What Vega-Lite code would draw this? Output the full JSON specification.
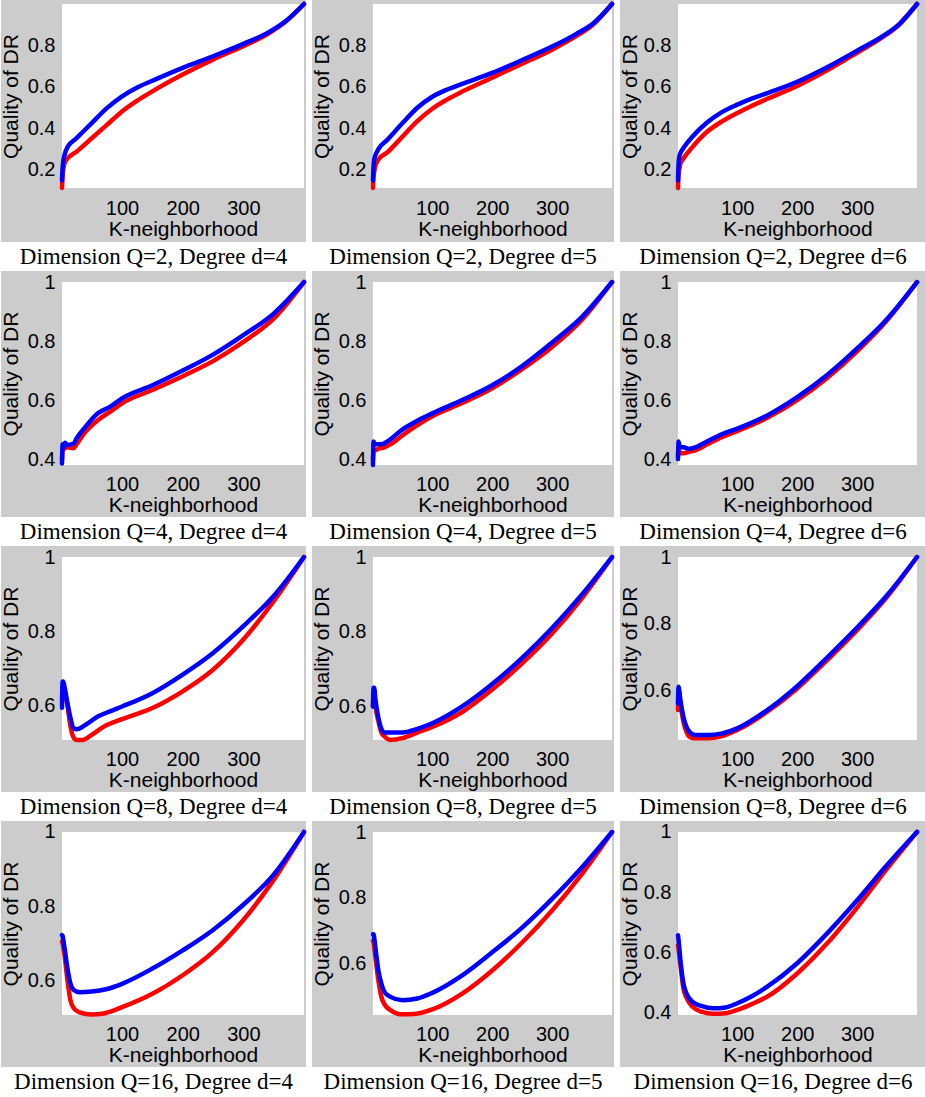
{
"$schema":"https://vega.github.io/schema/vega-lite/v6.json",
"padding":0,
"background":"white",
"spacing":2,
"config":{
 "view":{"fill":"#cccccc","stroke":null},
 "axis":{"domain":false,"ticks":false,"tickSize":0,"grid":false,"labelFont":"Liberation Sans","labelFontSize":20,"labelColor":"#000","titleFont":"Liberation Sans","titleFontSize":21,"titleFontWeight":"normal","titleColor":"#000"},
 "axisX":{"labelBaseline":"top","labelPadding":9,"titleBaseline":"alphabetic","titleAlign":"center","titleAngle":0},
 "axisY":{"labelPadding":7,"labelBaseline":"middle","titleAngle":270,"titleBaseline":"alphabetic","titleAlign":"center"},
 "title":{"orient":"bottom","anchor":"middle","offset":4,"baseline":"top","font":"Liberation Serif","fontSize":23,"fontWeight":"normal","color":"#000"},
 "line":{"strokeWidth":4.5,"interpolate":"monotone","strokeCap":"round","strokeJoin":"round","clip":true}
},
"vconcat":[
{"spacing":6,"bounds":"flush","hconcat":[
{"width":305,"height":242,"title":"Dimension Q=2, Degree d=4","layer":[
 {"data":{"values":[{}]},"mark":{"type":"rect","fill":"white"},"encoding":{
  "x":{"datum":1,"type":"quantitative","scale":{"domain":[-99.58,403.3],"nice":false,"zero":false},"axis":{"values":[100,200,300],"format":"d","title":"K-neighborhood","offset":-54,"labelPadding":10,"titleX":182,"titleY":47}},
  "x2":{"datum":400},
  "y":{"datum":0.113,"type":"quantitative","scale":{"domain":[-0.1474,1.0193],"nice":false,"zero":false},"axis":{"values":[0.2,0.4,0.6,0.8],"format":".1~f","title":"Quality of DR","offset":-61,"titleX":-45,"titleY":96}},
  "y2":{"datum":1}}},
 {"data":{"values":[
  {"s":"r","k":1,"q":0.113},{"s":"r","k":2,"q":0.17},{"s":"r","k":3,"q":0.2},{"s":"r","k":5,"q":0.23},{"s":"r","k":10,"q":0.255},{"s":"r","k":25,"q":0.288},{"s":"r","k":50,"q":0.353},{"s":"r","k":75,"q":0.417},{"s":"r","k":100,"q":0.482},{"s":"r","k":125,"q":0.534},{"s":"r","k":150,"q":0.579},{"s":"r","k":200,"q":0.66},{"s":"r","k":250,"q":0.732},{"s":"r","k":300,"q":0.797},{"s":"r","k":340,"q":0.855},{"s":"r","k":370,"q":0.915},{"s":"r","k":400,"q":1},
  {"s":"b","k":1,"q":0.15},{"s":"b","k":2,"q":0.21},{"s":"b","k":3,"q":0.24},{"s":"b","k":5,"q":0.27},{"s":"b","k":10,"q":0.31},{"s":"b","k":25,"q":0.353},{"s":"b","k":50,"q":0.426},{"s":"b","k":75,"q":0.498},{"s":"b","k":100,"q":0.555},{"s":"b","k":125,"q":0.598},{"s":"b","k":150,"q":0.63},{"s":"b","k":200,"q":0.692},{"s":"b","k":250,"q":0.748},{"s":"b","k":300,"q":0.808},{"s":"b","k":340,"q":0.861},{"s":"b","k":370,"q":0.918},{"s":"b","k":400,"q":1}]},
  "mark":"line","encoding":{
  "x":{"field":"k","type":"quantitative","scale":{"domain":[-99.58,403.3],"nice":false,"zero":false},"axis":{"values":[100,200,300],"format":"d","title":"K-neighborhood","offset":-54,"labelPadding":10,"titleX":182,"titleY":47}},
  "y":{"field":"q","type":"quantitative","scale":{"domain":[-0.1474,1.0193],"nice":false,"zero":false},"axis":{"values":[0.2,0.4,0.6,0.8],"format":".1~f","title":"Quality of DR","offset":-61,"titleX":-45,"titleY":96}},
  "color":{"field":"s","type":"nominal","scale":{"domain":["r","b"],"range":["#ff0000","#0000ff"]},"legend":null}}}
]},
{"width":302,"height":242,"title":"Dimension Q=2, Degree d=5","layer":[
 {"data":{"values":[{}]},"mark":{"type":"rect","fill":"white"},"encoding":{
  "x":{"datum":1,"type":"quantitative","scale":{"domain":[-100.8,403.34],"nice":false,"zero":false},"axis":{"values":[100,200,300],"format":"d","title":"K-neighborhood","offset":-54,"labelPadding":10,"titleX":180.5,"titleY":47}},
  "x2":{"datum":400},
  "y":{"datum":0.113,"type":"quantitative","scale":{"domain":[-0.1474,1.0193],"nice":false,"zero":false},"axis":{"values":[0.2,0.4,0.6,0.8],"format":".1~f","title":"Quality of DR","offset":-61,"titleX":-45,"titleY":96}},
  "y2":{"datum":1}}},
 {"data":{"values":[
  {"s":"r","k":1,"q":0.113},{"s":"r","k":2,"q":0.17},{"s":"r","k":3,"q":0.19},{"s":"r","k":5,"q":0.22},{"s":"r","k":10,"q":0.25},{"s":"r","k":25,"q":0.285},{"s":"r","k":50,"q":0.36},{"s":"r","k":75,"q":0.435},{"s":"r","k":100,"q":0.495},{"s":"r","k":125,"q":0.54},{"s":"r","k":150,"q":0.578},{"s":"r","k":200,"q":0.645},{"s":"r","k":250,"q":0.712},{"s":"r","k":300,"q":0.78},{"s":"r","k":340,"q":0.845},{"s":"r","k":370,"q":0.905},{"s":"r","k":400,"q":1},
  {"s":"b","k":1,"q":0.15},{"s":"b","k":2,"q":0.22},{"s":"b","k":3,"q":0.25},{"s":"b","k":5,"q":0.27},{"s":"b","k":10,"q":0.3},{"s":"b","k":25,"q":0.345},{"s":"b","k":50,"q":0.425},{"s":"b","k":75,"q":0.5},{"s":"b","k":100,"q":0.553},{"s":"b","k":125,"q":0.588},{"s":"b","k":150,"q":0.615},{"s":"b","k":200,"q":0.668},{"s":"b","k":250,"q":0.73},{"s":"b","k":300,"q":0.795},{"s":"b","k":340,"q":0.855},{"s":"b","k":370,"q":0.91},{"s":"b","k":400,"q":1}]},
  "mark":"line","encoding":{
  "x":{"field":"k","type":"quantitative","scale":{"domain":[-100.8,403.34],"nice":false,"zero":false},"axis":{"values":[100,200,300],"format":"d","title":"K-neighborhood","offset":-54,"labelPadding":10,"titleX":180.5,"titleY":47}},
  "y":{"field":"q","type":"quantitative","scale":{"domain":[-0.1474,1.0193],"nice":false,"zero":false},"axis":{"values":[0.2,0.4,0.6,0.8],"format":".1~f","title":"Quality of DR","offset":-61,"titleX":-45,"titleY":96}},
  "color":{"field":"s","type":"nominal","scale":{"domain":["r","b"],"range":["#ff0000","#0000ff"]},"legend":null}}}
]},
{"width":306,"height":242,"title":"Dimension Q=2, Degree d=6","layer":[
 {"data":{"values":[{}]},"mark":{"type":"rect","fill":"white"},"encoding":{
  "x":{"datum":1,"type":"quantitative","scale":{"domain":[-95.8,415.0],"nice":false,"zero":false},"axis":{"values":[100,200,300],"format":"d","title":"K-neighborhood","offset":-54,"labelPadding":10,"titleX":177.5,"titleY":47}},
  "x2":{"datum":400},
  "y":{"datum":0.113,"type":"quantitative","scale":{"domain":[-0.1474,1.0193],"nice":false,"zero":false},"axis":{"values":[0.2,0.4,0.6,0.8],"format":".1~f","title":"Quality of DR","offset":-58,"titleX":-42,"titleY":96}},
  "y2":{"datum":1}}},
 {"data":{"values":[
  {"s":"r","k":1,"q":0.113},{"s":"r","k":2,"q":0.18},{"s":"r","k":3,"q":0.2},{"s":"r","k":5,"q":0.23},{"s":"r","k":10,"q":0.255},{"s":"r","k":25,"q":0.31},{"s":"r","k":50,"q":0.385},{"s":"r","k":75,"q":0.435},{"s":"r","k":100,"q":0.475},{"s":"r","k":125,"q":0.51},{"s":"r","k":150,"q":0.543},{"s":"r","k":200,"q":0.605},{"s":"r","k":250,"q":0.68},{"s":"r","k":300,"q":0.765},{"s":"r","k":340,"q":0.835},{"s":"r","k":370,"q":0.9},{"s":"r","k":400,"q":1},
  {"s":"b","k":1,"q":0.15},{"s":"b","k":2,"q":0.23},{"s":"b","k":3,"q":0.26},{"s":"b","k":5,"q":0.28},{"s":"b","k":10,"q":0.305},{"s":"b","k":25,"q":0.36},{"s":"b","k":50,"q":0.43},{"s":"b","k":75,"q":0.48},{"s":"b","k":100,"q":0.515},{"s":"b","k":125,"q":0.545},{"s":"b","k":150,"q":0.57},{"s":"b","k":200,"q":0.625},{"s":"b","k":250,"q":0.695},{"s":"b","k":300,"q":0.775},{"s":"b","k":340,"q":0.84},{"s":"b","k":370,"q":0.902},{"s":"b","k":400,"q":1}]},
  "mark":"line","encoding":{
  "x":{"field":"k","type":"quantitative","scale":{"domain":[-95.8,415.0],"nice":false,"zero":false},"axis":{"values":[100,200,300],"format":"d","title":"K-neighborhood","offset":-54,"labelPadding":10,"titleX":177.5,"titleY":47}},
  "y":{"field":"q","type":"quantitative","scale":{"domain":[-0.1474,1.0193],"nice":false,"zero":false},"axis":{"values":[0.2,0.4,0.6,0.8],"format":".1~f","title":"Quality of DR","offset":-58,"titleX":-42,"titleY":96}},
  "color":{"field":"s","type":"nominal","scale":{"domain":["r","b"],"range":["#ff0000","#0000ff"]},"legend":null}}}
]}
]},
{"spacing":6,"bounds":"flush","hconcat":[
{"width":305,"height":246,"title":"Dimension Q=4, Degree d=4","layer":[
 {"data":{"values":[{}]},"mark":{"type":"rect","fill":"white"},"encoding":{
  "x":{"datum":1,"type":"quantitative","scale":{"domain":[-99.58,403.3],"nice":false,"zero":false},"axis":{"values":[100,200,300],"format":"d","title":"K-neighborhood","offset":-52,"titleX":182,"titleY":46}},
  "x2":{"datum":400},
  "y":{"datum":0.38,"type":"quantitative","scale":{"domain":[0.2038,1.0373],"nice":false,"zero":false},"axis":{"values":[0.4,0.6,0.8,1],"format":".1~f","title":"Quality of DR","offset":-61,"titleX":-45,"titleY":102.5}},
  "y2":{"datum":1}}},
 {"data":{"values":[
  {"s":"r","k":1,"q":0.397},{"s":"r","k":2,"q":0.43},{"s":"r","k":5,"q":0.435},{"s":"r","k":10,"q":0.44},{"s":"r","k":20,"q":0.437},{"s":"r","k":25,"q":0.45},{"s":"r","k":40,"q":0.493},{"s":"r","k":60,"q":0.532},{"s":"r","k":80,"q":0.56},{"s":"r","k":100,"q":0.589},{"s":"r","k":150,"q":0.634},{"s":"r","k":200,"q":0.681},{"s":"r","k":250,"q":0.732},{"s":"r","k":300,"q":0.797},{"s":"r","k":350,"q":0.876},{"s":"r","k":400,"q":1},
  {"s":"b","k":1,"q":0.385},{"s":"b","k":2,"q":0.45},{"s":"b","k":4,"q":0.44},{"s":"b","k":6,"q":0.455},{"s":"b","k":10,"q":0.447},{"s":"b","k":15,"q":0.45},{"s":"b","k":20,"q":0.452},{"s":"b","k":25,"q":0.47},{"s":"b","k":40,"q":0.51},{"s":"b","k":60,"q":0.555},{"s":"b","k":80,"q":0.577},{"s":"b","k":100,"q":0.606},{"s":"b","k":150,"q":0.65},{"s":"b","k":200,"q":0.7},{"s":"b","k":250,"q":0.754},{"s":"b","k":300,"q":0.82},{"s":"b","k":350,"q":0.893},{"s":"b","k":400,"q":1}]},
  "mark":"line","encoding":{
  "x":{"field":"k","type":"quantitative","scale":{"domain":[-99.58,403.3],"nice":false,"zero":false},"axis":{"values":[100,200,300],"format":"d","title":"K-neighborhood","offset":-52,"titleX":182,"titleY":46}},
  "y":{"field":"q","type":"quantitative","scale":{"domain":[0.2038,1.0373],"nice":false,"zero":false},"axis":{"values":[0.4,0.6,0.8,1],"format":".1~f","title":"Quality of DR","offset":-61,"titleX":-45,"titleY":102.5}},
  "color":{"field":"s","type":"nominal","scale":{"domain":["r","b"],"range":["#ff0000","#0000ff"]},"legend":null}}}
]},
{"width":302,"height":246,"title":"Dimension Q=4, Degree d=5","layer":[
 {"data":{"values":[{}]},"mark":{"type":"rect","fill":"white"},"encoding":{
  "x":{"datum":1,"type":"quantitative","scale":{"domain":[-100.8,403.34],"nice":false,"zero":false},"axis":{"values":[100,200,300],"format":"d","title":"K-neighborhood","offset":-52,"titleX":180.5,"titleY":46}},
  "x2":{"datum":400},
  "y":{"datum":0.38,"type":"quantitative","scale":{"domain":[0.2038,1.0373],"nice":false,"zero":false},"axis":{"values":[0.4,0.6,0.8,1],"format":".1~f","title":"Quality of DR","offset":-61,"titleX":-45,"titleY":102.5}},
  "y2":{"datum":1}}},
 {"data":{"values":[
  {"s":"r","k":1,"q":0.4},{"s":"r","k":2,"q":0.43},{"s":"r","k":5,"q":0.43},{"s":"r","k":10,"q":0.435},{"s":"r","k":20,"q":0.44},{"s":"r","k":30,"q":0.45},{"s":"r","k":50,"q":0.48},{"s":"r","k":75,"q":0.515},{"s":"r","k":100,"q":0.545},{"s":"r","k":150,"q":0.59},{"s":"r","k":200,"q":0.64},{"s":"r","k":250,"q":0.705},{"s":"r","k":300,"q":0.78},{"s":"r","k":350,"q":0.872},{"s":"r","k":400,"q":1},
  {"s":"b","k":1,"q":0.38},{"s":"b","k":2,"q":0.46},{"s":"b","k":4,"q":0.45},{"s":"b","k":8,"q":0.45},{"s":"b","k":15,"q":0.45},{"s":"b","k":25,"q":0.46},{"s":"b","k":50,"q":0.5},{"s":"b","k":75,"q":0.53},{"s":"b","k":100,"q":0.555},{"s":"b","k":150,"q":0.6},{"s":"b","k":200,"q":0.65},{"s":"b","k":250,"q":0.715},{"s":"b","k":300,"q":0.795},{"s":"b","k":350,"q":0.882},{"s":"b","k":400,"q":1}]},
  "mark":"line","encoding":{
  "x":{"field":"k","type":"quantitative","scale":{"domain":[-100.8,403.34],"nice":false,"zero":false},"axis":{"values":[100,200,300],"format":"d","title":"K-neighborhood","offset":-52,"titleX":180.5,"titleY":46}},
  "y":{"field":"q","type":"quantitative","scale":{"domain":[0.2038,1.0373],"nice":false,"zero":false},"axis":{"values":[0.4,0.6,0.8,1],"format":".1~f","title":"Quality of DR","offset":-61,"titleX":-45,"titleY":102.5}},
  "color":{"field":"s","type":"nominal","scale":{"domain":["r","b"],"range":["#ff0000","#0000ff"]},"legend":null}}}
]},
{"width":306,"height":246,"title":"Dimension Q=4, Degree d=6","layer":[
 {"data":{"values":[{}]},"mark":{"type":"rect","fill":"white"},"encoding":{
  "x":{"datum":1,"type":"quantitative","scale":{"domain":[-95.8,415.0],"nice":false,"zero":false},"axis":{"values":[100,200,300],"format":"d","title":"K-neighborhood","offset":-52,"titleX":177.5,"titleY":46}},
  "x2":{"datum":400},
  "y":{"datum":0.38,"type":"quantitative","scale":{"domain":[0.2038,1.0373],"nice":false,"zero":false},"axis":{"values":[0.4,0.6,0.8,1],"format":".1~f","title":"Quality of DR","offset":-58,"titleX":-42,"titleY":102.5}},
  "y2":{"datum":1}}},
 {"data":{"values":[
  {"s":"r","k":1,"q":0.41},{"s":"r","k":2,"q":0.43},{"s":"r","k":5,"q":0.42},{"s":"r","k":10,"q":0.42},{"s":"r","k":20,"q":0.425},{"s":"r","k":30,"q":0.43},{"s":"r","k":50,"q":0.45},{"s":"r","k":75,"q":0.475},{"s":"r","k":100,"q":0.495},{"s":"r","k":150,"q":0.54},{"s":"r","k":200,"q":0.6},{"s":"r","k":250,"q":0.675},{"s":"r","k":300,"q":0.765},{"s":"r","k":350,"q":0.87},{"s":"r","k":400,"q":1},
  {"s":"b","k":1,"q":0.4},{"s":"b","k":2,"q":0.46},{"s":"b","k":4,"q":0.44},{"s":"b","k":10,"q":0.44},{"s":"b","k":20,"q":0.435},{"s":"b","k":30,"q":0.44},{"s":"b","k":50,"q":0.46},{"s":"b","k":75,"q":0.485},{"s":"b","k":100,"q":0.503},{"s":"b","k":150,"q":0.548},{"s":"b","k":200,"q":0.61},{"s":"b","k":250,"q":0.685},{"s":"b","k":300,"q":0.775},{"s":"b","k":350,"q":0.875},{"s":"b","k":400,"q":1}]},
  "mark":"line","encoding":{
  "x":{"field":"k","type":"quantitative","scale":{"domain":[-95.8,415.0],"nice":false,"zero":false},"axis":{"values":[100,200,300],"format":"d","title":"K-neighborhood","offset":-52,"titleX":177.5,"titleY":46}},
  "y":{"field":"q","type":"quantitative","scale":{"domain":[0.2038,1.0373],"nice":false,"zero":false},"axis":{"values":[0.4,0.6,0.8,1],"format":".1~f","title":"Quality of DR","offset":-58,"titleX":-42,"titleY":102.5}},
  "color":{"field":"s","type":"nominal","scale":{"domain":["r","b"],"range":["#ff0000","#0000ff"]},"legend":null}}}
]}
]},
{"spacing":6,"bounds":"flush","hconcat":[
{"width":305,"height":246,"title":"Dimension Q=8, Degree d=4","layer":[
 {"data":{"values":[{}]},"mark":{"type":"rect","fill":"white"},"encoding":{
  "x":{"datum":1,"type":"quantitative","scale":{"domain":[-99.58,403.3],"nice":false,"zero":false},"axis":{"values":[100,200,300],"format":"d","title":"K-neighborhood","offset":-52,"titleX":182,"titleY":46}},
  "x2":{"datum":400},
  "y":{"datum":0.508,"type":"quantitative","scale":{"domain":[0.3682,1.0296],"nice":false,"zero":false},"axis":{"values":[0.6,0.8,1],"format":".1~f","title":"Quality of DR","offset":-61,"titleX":-45,"titleY":102.5}},
  "y2":{"datum":1}}},
 {"data":{"values":[
  {"s":"r","k":1,"q":0.62},{"s":"r","k":2,"q":0.645},{"s":"r","k":3,"q":0.655},{"s":"r","k":5,"q":0.64},{"s":"r","k":10,"q":0.6},{"s":"r","k":15,"q":0.544},{"s":"r","k":20,"q":0.515},{"s":"r","k":25,"q":0.508},{"s":"r","k":35,"q":0.508},{"s":"r","k":50,"q":0.522},{"s":"r","k":70,"q":0.544},{"s":"r","k":100,"q":0.564},{"s":"r","k":150,"q":0.594},{"s":"r","k":200,"q":0.639},{"s":"r","k":250,"q":0.697},{"s":"r","k":300,"q":0.778},{"s":"r","k":350,"q":0.881},{"s":"r","k":400,"q":1},
  {"s":"b","k":1,"q":0.595},{"s":"b","k":2,"q":0.665},{"s":"b","k":3,"q":0.665},{"s":"b","k":5,"q":0.652},{"s":"b","k":10,"q":0.607},{"s":"b","k":15,"q":0.567},{"s":"b","k":20,"q":0.54},{"s":"b","k":25,"q":0.537},{"s":"b","k":40,"q":0.549},{"s":"b","k":60,"q":0.571},{"s":"b","k":80,"q":0.585},{"s":"b","k":100,"q":0.598},{"s":"b","k":150,"q":0.634},{"s":"b","k":200,"q":0.684},{"s":"b","k":250,"q":0.742},{"s":"b","k":300,"q":0.814},{"s":"b","k":350,"q":0.895},{"s":"b","k":400,"q":1}]},
  "mark":"line","encoding":{
  "x":{"field":"k","type":"quantitative","scale":{"domain":[-99.58,403.3],"nice":false,"zero":false},"axis":{"values":[100,200,300],"format":"d","title":"K-neighborhood","offset":-52,"titleX":182,"titleY":46}},
  "y":{"field":"q","type":"quantitative","scale":{"domain":[0.3682,1.0296],"nice":false,"zero":false},"axis":{"values":[0.6,0.8,1],"format":".1~f","title":"Quality of DR","offset":-61,"titleX":-45,"titleY":102.5}},
  "color":{"field":"s","type":"nominal","scale":{"domain":["r","b"],"range":["#ff0000","#0000ff"]},"legend":null}}}
]},
{"width":302,"height":246,"title":"Dimension Q=8, Degree d=5","layer":[
 {"data":{"values":[{}]},"mark":{"type":"rect","fill":"white"},"encoding":{
  "x":{"datum":1,"type":"quantitative","scale":{"domain":[-100.8,403.34],"nice":false,"zero":false},"axis":{"values":[100,200,300],"format":"d","title":"K-neighborhood","offset":-52,"titleX":180.5,"titleY":46}},
  "x2":{"datum":400},
  "y":{"datum":0.51,"type":"quantitative","scale":{"domain":[0.3708,1.0295],"nice":false,"zero":false},"axis":{"values":[0.6,0.8,1],"format":".1~f","title":"Quality of DR","offset":-61,"titleX":-45,"titleY":102.5}},
  "y2":{"datum":1}}},
 {"data":{"values":[
  {"s":"r","k":1,"q":0.6},{"s":"r","k":2,"q":0.63},{"s":"r","k":3,"q":0.625},{"s":"r","k":5,"q":0.6},{"s":"r","k":10,"q":0.56},{"s":"r","k":15,"q":0.53},{"s":"r","k":20,"q":0.52},{"s":"r","k":30,"q":0.51},{"s":"r","k":50,"q":0.515},{"s":"r","k":75,"q":0.53},{"s":"r","k":100,"q":0.545},{"s":"r","k":150,"q":0.585},{"s":"r","k":200,"q":0.645},{"s":"r","k":250,"q":0.715},{"s":"r","k":300,"q":0.795},{"s":"r","k":350,"q":0.89},{"s":"r","k":400,"q":1},
  {"s":"b","k":1,"q":0.6},{"s":"b","k":2,"q":0.65},{"s":"b","k":3,"q":0.65},{"s":"b","k":5,"q":0.62},{"s":"b","k":10,"q":0.57},{"s":"b","k":15,"q":0.54},{"s":"b","k":20,"q":0.53},{"s":"b","k":30,"q":0.53},{"s":"b","k":50,"q":0.53},{"s":"b","k":75,"q":0.54},{"s":"b","k":100,"q":0.555},{"s":"b","k":150,"q":0.6},{"s":"b","k":200,"q":0.66},{"s":"b","k":250,"q":0.73},{"s":"b","k":300,"q":0.81},{"s":"b","k":350,"q":0.9},{"s":"b","k":400,"q":1}]},
  "mark":"line","encoding":{
  "x":{"field":"k","type":"quantitative","scale":{"domain":[-100.8,403.34],"nice":false,"zero":false},"axis":{"values":[100,200,300],"format":"d","title":"K-neighborhood","offset":-52,"titleX":180.5,"titleY":46}},
  "y":{"field":"q","type":"quantitative","scale":{"domain":[0.3708,1.0295],"nice":false,"zero":false},"axis":{"values":[0.6,0.8,1],"format":".1~f","title":"Quality of DR","offset":-61,"titleX":-45,"titleY":102.5}},
  "color":{"field":"s","type":"nominal","scale":{"domain":["r","b"],"range":["#ff0000","#0000ff"]},"legend":null}}}
]},
{"width":306,"height":246,"title":"Dimension Q=8, Degree d=6","layer":[
 {"data":{"values":[{}]},"mark":{"type":"rect","fill":"white"},"encoding":{
  "x":{"datum":1,"type":"quantitative","scale":{"domain":[-95.8,415.0],"nice":false,"zero":false},"axis":{"values":[100,200,300],"format":"d","title":"K-neighborhood","offset":-52,"titleX":177.5,"titleY":46}},
  "x2":{"datum":400},
  "y":{"datum":0.45,"type":"quantitative","scale":{"domain":[0.2937,1.0331],"nice":false,"zero":false},"axis":{"values":[0.6,0.8,1],"format":".1~f","title":"Quality of DR","offset":-58,"titleX":-42,"titleY":102.5}},
  "y2":{"datum":1}}},
 {"data":{"values":[
  {"s":"r","k":1,"q":0.54},{"s":"r","k":2,"q":0.6},{"s":"r","k":3,"q":0.59},{"s":"r","k":5,"q":0.56},{"s":"r","k":10,"q":0.505},{"s":"r","k":15,"q":0.475},{"s":"r","k":20,"q":0.46},{"s":"r","k":30,"q":0.455},{"s":"r","k":50,"q":0.455},{"s":"r","k":75,"q":0.462},{"s":"r","k":100,"q":0.48},{"s":"r","k":150,"q":0.535},{"s":"r","k":200,"q":0.605},{"s":"r","k":250,"q":0.69},{"s":"r","k":300,"q":0.78},{"s":"r","k":350,"q":0.88},{"s":"r","k":400,"q":1},
  {"s":"b","k":1,"q":0.56},{"s":"b","k":2,"q":0.61},{"s":"b","k":3,"q":0.6},{"s":"b","k":5,"q":0.57},{"s":"b","k":10,"q":0.52},{"s":"b","k":15,"q":0.49},{"s":"b","k":20,"q":0.475},{"s":"b","k":30,"q":0.465},{"s":"b","k":50,"q":0.465},{"s":"b","k":75,"q":0.47},{"s":"b","k":100,"q":0.485},{"s":"b","k":150,"q":0.54},{"s":"b","k":200,"q":0.612},{"s":"b","k":250,"q":0.698},{"s":"b","k":300,"q":0.788},{"s":"b","k":350,"q":0.885},{"s":"b","k":400,"q":1}]},
  "mark":"line","encoding":{
  "x":{"field":"k","type":"quantitative","scale":{"domain":[-95.8,415.0],"nice":false,"zero":false},"axis":{"values":[100,200,300],"format":"d","title":"K-neighborhood","offset":-52,"titleX":177.5,"titleY":46}},
  "y":{"field":"q","type":"quantitative","scale":{"domain":[0.2937,1.0331],"nice":false,"zero":false},"axis":{"values":[0.6,0.8,1],"format":".1~f","title":"Quality of DR","offset":-58,"titleX":-42,"titleY":102.5}},
  "color":{"field":"s","type":"nominal","scale":{"domain":["r","b"],"range":["#ff0000","#0000ff"]},"legend":null}}}
]}
]},
{"spacing":6,"bounds":"flush","hconcat":[
{"width":305,"height":246,"title":"Dimension Q=16, Degree d=4","layer":[
 {"data":{"values":[{}]},"mark":{"type":"rect","fill":"white"},"encoding":{
  "x":{"datum":1,"type":"quantitative","scale":{"domain":[-99.58,403.3],"nice":false,"zero":false},"axis":{"values":[100,200,300],"format":"d","title":"K-neighborhood","offset":-52,"titleX":182,"titleY":46}},
  "x2":{"datum":400},
  "y":{"datum":0.507,"type":"quantitative","scale":{"domain":[0.3669,1.0296],"nice":false,"zero":false},"axis":{"values":[0.6,0.8,1],"format":".1~f","title":"Quality of DR","offset":-61,"titleX":-45,"titleY":102.5}},
  "y2":{"datum":1}}},
 {"data":{"values":[
  {"s":"r","k":1,"q":0.705},{"s":"r","k":2,"q":0.7},{"s":"r","k":5,"q":0.67},{"s":"r","k":10,"q":0.6},{"s":"r","k":15,"q":0.546},{"s":"r","k":20,"q":0.526},{"s":"r","k":30,"q":0.514},{"s":"r","k":50,"q":0.508},{"s":"r","k":70,"q":0.511},{"s":"r","k":100,"q":0.528},{"s":"r","k":150,"q":0.564},{"s":"r","k":200,"q":0.614},{"s":"r","k":250,"q":0.677},{"s":"r","k":300,"q":0.763},{"s":"r","k":350,"q":0.871},{"s":"r","k":400,"q":1},
  {"s":"b","k":1,"q":0.722},{"s":"b","k":2,"q":0.72},{"s":"b","k":3,"q":0.71},{"s":"b","k":5,"q":0.69},{"s":"b","k":10,"q":0.632},{"s":"b","k":15,"q":0.591},{"s":"b","k":20,"q":0.575},{"s":"b","k":30,"q":0.568},{"s":"b","k":50,"q":0.57},{"s":"b","k":75,"q":0.577},{"s":"b","k":100,"q":0.591},{"s":"b","k":150,"q":0.632},{"s":"b","k":200,"q":0.681},{"s":"b","k":250,"q":0.736},{"s":"b","k":300,"q":0.804},{"s":"b","k":350,"q":0.885},{"s":"b","k":400,"q":1}]},
  "mark":"line","encoding":{
  "x":{"field":"k","type":"quantitative","scale":{"domain":[-99.58,403.3],"nice":false,"zero":false},"axis":{"values":[100,200,300],"format":"d","title":"K-neighborhood","offset":-52,"titleX":182,"titleY":46}},
  "y":{"field":"q","type":"quantitative","scale":{"domain":[0.3669,1.0296],"nice":false,"zero":false},"axis":{"values":[0.6,0.8,1],"format":".1~f","title":"Quality of DR","offset":-61,"titleX":-45,"titleY":102.5}},
  "color":{"field":"s","type":"nominal","scale":{"domain":["r","b"],"range":["#ff0000","#0000ff"]},"legend":null}}}
]},
{"width":302,"height":246,"title":"Dimension Q=16, Degree d=5","layer":[
 {"data":{"values":[{}]},"mark":{"type":"rect","fill":"white"},"encoding":{
  "x":{"datum":1,"type":"quantitative","scale":{"domain":[-100.8,403.34],"nice":false,"zero":false},"axis":{"values":[100,200,300],"format":"d","title":"K-neighborhood","offset":-52,"titleX":180.5,"titleY":46}},
  "x2":{"datum":400},
  "y":{"datum":0.445,"type":"quantitative","scale":{"domain":[0.2873,1.0334],"nice":false,"zero":false},"axis":{"values":[0.6,0.8,1],"format":".1~f","title":"Quality of DR","offset":-61,"titleX":-45,"titleY":102.5}},
  "y2":{"datum":1}}},
 {"data":{"values":[
  {"s":"r","k":1,"q":0.67},{"s":"r","k":2,"q":0.665},{"s":"r","k":5,"q":0.62},{"s":"r","k":10,"q":0.55},{"s":"r","k":15,"q":0.5},{"s":"r","k":20,"q":0.478},{"s":"r","k":30,"q":0.46},{"s":"r","k":50,"q":0.447},{"s":"r","k":70,"q":0.448},{"s":"r","k":100,"q":0.462},{"s":"r","k":150,"q":0.51},{"s":"r","k":200,"q":0.58},{"s":"r","k":250,"q":0.665},{"s":"r","k":300,"q":0.762},{"s":"r","k":350,"q":0.873},{"s":"r","k":400,"q":1},
  {"s":"b","k":1,"q":0.69},{"s":"b","k":2,"q":0.69},{"s":"b","k":3,"q":0.68},{"s":"b","k":5,"q":0.65},{"s":"b","k":10,"q":0.58},{"s":"b","k":15,"q":0.54},{"s":"b","k":20,"q":0.515},{"s":"b","k":30,"q":0.5},{"s":"b","k":50,"q":0.49},{"s":"b","k":75,"q":0.495},{"s":"b","k":100,"q":0.512},{"s":"b","k":150,"q":0.565},{"s":"b","k":200,"q":0.635},{"s":"b","k":250,"q":0.71},{"s":"b","k":300,"q":0.797},{"s":"b","k":350,"q":0.893},{"s":"b","k":400,"q":1}]},
  "mark":"line","encoding":{
  "x":{"field":"k","type":"quantitative","scale":{"domain":[-100.8,403.34],"nice":false,"zero":false},"axis":{"values":[100,200,300],"format":"d","title":"K-neighborhood","offset":-52,"titleX":180.5,"titleY":46}},
  "y":{"field":"q","type":"quantitative","scale":{"domain":[0.2873,1.0334],"nice":false,"zero":false},"axis":{"values":[0.6,0.8,1],"format":".1~f","title":"Quality of DR","offset":-61,"titleX":-45,"titleY":102.5}},
  "color":{"field":"s","type":"nominal","scale":{"domain":["r","b"],"range":["#ff0000","#0000ff"]},"legend":null}}}
]},
{"width":306,"height":246,"title":"Dimension Q=16, Degree d=6","layer":[
 {"data":{"values":[{}]},"mark":{"type":"rect","fill":"white"},"encoding":{
  "x":{"datum":1,"type":"quantitative","scale":{"domain":[-95.8,415.0],"nice":false,"zero":false},"axis":{"values":[100,200,300],"format":"d","title":"K-neighborhood","offset":-52,"titleX":177.5,"titleY":46}},
  "x2":{"datum":400},
  "y":{"datum":0.392,"type":"quantitative","scale":{"domain":[0.2192,1.0365],"nice":false,"zero":false},"axis":{"values":[0.4,0.6,0.8,1],"format":".1~f","title":"Quality of DR","offset":-58,"titleX":-42,"titleY":102.5}},
  "y2":{"datum":1}}},
 {"data":{"values":[
  {"s":"r","k":1,"q":0.624},{"s":"r","k":2,"q":0.61},{"s":"r","k":5,"q":0.56},{"s":"r","k":10,"q":0.48},{"s":"r","k":15,"q":0.45},{"s":"r","k":25,"q":0.42},{"s":"r","k":40,"q":0.403},{"s":"r","k":60,"q":0.396},{"s":"r","k":80,"q":0.398},{"s":"r","k":100,"q":0.409},{"s":"r","k":125,"q":0.429},{"s":"r","k":150,"q":0.453},{"s":"r","k":200,"q":0.53},{"s":"r","k":250,"q":0.63},{"s":"r","k":300,"q":0.749},{"s":"r","k":350,"q":0.878},{"s":"r","k":400,"q":1},
  {"s":"b","k":1,"q":0.657},{"s":"b","k":2,"q":0.64},{"s":"b","k":5,"q":0.575},{"s":"b","k":10,"q":0.497},{"s":"b","k":15,"q":0.464},{"s":"b","k":25,"q":0.436},{"s":"b","k":40,"q":0.422},{"s":"b","k":60,"q":0.414},{"s":"b","k":80,"q":0.417},{"s":"b","k":100,"q":0.431},{"s":"b","k":125,"q":0.455},{"s":"b","k":150,"q":0.486},{"s":"b","k":200,"q":0.564},{"s":"b","k":250,"q":0.663},{"s":"b","k":300,"q":0.773},{"s":"b","k":350,"q":0.89},{"s":"b","k":400,"q":1}]},
  "mark":"line","encoding":{
  "x":{"field":"k","type":"quantitative","scale":{"domain":[-95.8,415.0],"nice":false,"zero":false},"axis":{"values":[100,200,300],"format":"d","title":"K-neighborhood","offset":-52,"titleX":177.5,"titleY":46}},
  "y":{"field":"q","type":"quantitative","scale":{"domain":[0.2192,1.0365],"nice":false,"zero":false},"axis":{"values":[0.4,0.6,0.8,1],"format":".1~f","title":"Quality of DR","offset":-58,"titleX":-42,"titleY":102.5}},
  "color":{"field":"s","type":"nominal","scale":{"domain":["r","b"],"range":["#ff0000","#0000ff"]},"legend":null}}}
]}
]}
]
}
